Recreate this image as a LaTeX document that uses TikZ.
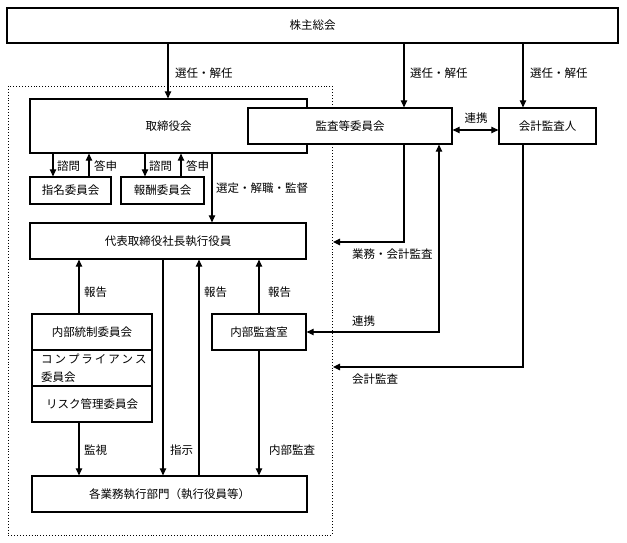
\documentclass[tikz,border=0pt]{standalone}
\usepackage{fontspec}
\newfontfamily\jp{Noto Sans CJK JP}
\usetikzlibrary{arrows.meta,positioning}
\tikzset{
  box/.style={draw, line width=1.3pt, fill=white, inner sep=0pt, font=\jp\fontsize{11.5}{14}\selectfont},
  arr/.style={line width=1.1pt, -{Triangle[length=7pt,width=6.5pt]}},
  darr/.style={line width=1.1pt, {Triangle[length=7pt,width=6.5pt]}-{Triangle[length=7pt,width=6.5pt]}},
  lbl/.style={anchor=west, inner sep=0pt, font=\jp\fontsize{11.5}{14}\selectfont},
  frame/.style={line width=0.9pt, dotted}
}
\begin{document}
\begin{tikzpicture}[x=1pt,y=-1pt]
\useasboundingbox (0,0) rectangle (627,543);
% dotted frame
\draw[frame] (8,86) rectangle (332,535);
% nodes
\node[box, minimum width=611pt, minimum height=35pt] (sh) at (312.5,25.5) {株主総会};
\node[box, minimum width=277pt, minimum height=54pt] (bd) at (168.5,126) {取締役会};
\node[box, minimum width=204pt, minimum height=36pt] (ac) at (350,126) {監査等委員会};
\node[box, minimum width=97pt, minimum height=36pt] (au) at (547.5,126) {会計監査人};
\node[box, minimum width=81pt, minimum height=27pt] (nm) at (70.5,190.5) {指名委員会};
\node[box, minimum width=83pt, minimum height=27pt] (rm) at (162.5,190.5) {報酬委員会};
\node[box, minimum width=276pt, minimum height=36pt] (pr) at (168,241) {代表取締役社長執行役員};
\node[box, minimum width=120pt, minimum height=36pt] (ic) at (92,332) {内部統制委員会};
\node[box, minimum width=120pt, minimum height=36pt] (cc) at (92,368) {};
\node[lbl, align=left, font=\jp\fontsize{11.5}{18}\selectfont] (cct) at (41,368) {コ\,ン\,プ\,ラ\,イ\,ア\,ン\,ス\\委員会};
\node[box, minimum width=120pt, minimum height=36pt] (rk) at (92,404) {リスク管理委員会};
\node[box, minimum width=94pt, minimum height=36pt] (ia) at (259,332) {内部監査室};
\node[box, minimum width=275pt, minimum height=36pt] (dp) at (169.5,494) {各業務執行部門（執行役員等）};
% x positions
\coordinate (x168) at (168,0);
\coordinate (x404) at (404,0);
\coordinate (x523) at (523,0);
\coordinate (x439) at (439,0);
\coordinate (x53) at (53,0);
\coordinate (x89) at (89,0);
\coordinate (x145) at (145,0);
\coordinate (x181) at (181,0);
\coordinate (x212) at (212,0);
\coordinate (x79) at (79,0);
\coordinate (x163) at (163,0);
\coordinate (x199) at (199,0);
\coordinate (x259) at (259,0);
\coordinate (fr1) at (333,242);
\coordinate (fr2) at (333,367);
% shareholder arrows
\draw[arr] (x168 |- sh.south) -- (x168 |- bd.north);
\draw[arr] (x404 |- sh.south) -- (x404 |- ac.north);
\draw[arr] (x523 |- sh.south) -- (x523 |- au.north);
\node[lbl] (l1) at (175,73) {選任・解任};
\node[lbl] (l2) at (410,73) {選任・解任};
\node[lbl] (l3) at (530,73) {選任・解任};
% ac <-> au
\draw[darr] (ac.east |- 0,130) -- (au.west |- 0,130);
\node[font=\jp\fontsize{11.5}{14}\selectfont, inner sep=0pt] (l4) at (476,118) {連携};
% nomination / remuneration
\draw[arr] (x53 |- bd.south) -- (x53 |- nm.north);
\draw[arr] (x89 |- nm.north) -- (x89 |- bd.south);
\draw[arr] (x145 |- bd.south) -- (x145 |- rm.north);
\draw[arr] (x181 |- rm.north) -- (x181 |- bd.south);
\node[lbl] (l5) at (57,166) {諮問};
\node[lbl] (l6) at (94,166) {答申};
\node[lbl] (l7) at (149,166) {諮問};
\node[lbl] (l8) at (186,166) {答申};
\draw[arr] (x212 |- bd.south) -- (x212 |- pr.north);
\node[lbl] (l9) at (216,188) {選定・解職・監督};
% audit committee lines
\draw[arr] (x404 |- ac.south) |- (fr1);
\node[lbl] (l10) at (352,254) {業務・会計監査};
\draw[darr] (ia.east) -| (x439 |- ac.south);
\node[lbl] (l11) at (352,321) {連携};
\draw[arr] (x523 |- au.south) |- (fr2);
\node[lbl] (l12) at (352,379) {会計監査};
% reports
\draw[arr] (x79 |- ic.north) -- (x79 |- pr.south);
\draw[arr] (x199 |- dp.north) -- (x199 |- pr.south);
\draw[arr] (x259 |- ia.north) -- (x259 |- pr.south);
\node[lbl] (l13) at (84,292) {報告};
\node[lbl] (l14) at (204,292) {報告};
\node[lbl] (l15) at (268,292) {報告};
% downward
\draw[arr] (x79 |- rk.south) -- (x79 |- dp.north);
\draw[arr] (x163 |- pr.south) -- (x163 |- dp.north);
\draw[arr] (x259 |- ia.south) -- (x259 |- dp.north);
\node[lbl] (l16) at (84,450) {監視};
\node[lbl] (l17) at (170,450) {指示};
\node[lbl] (l18) at (269,450) {内部監査};
\end{tikzpicture}
\end{document}
